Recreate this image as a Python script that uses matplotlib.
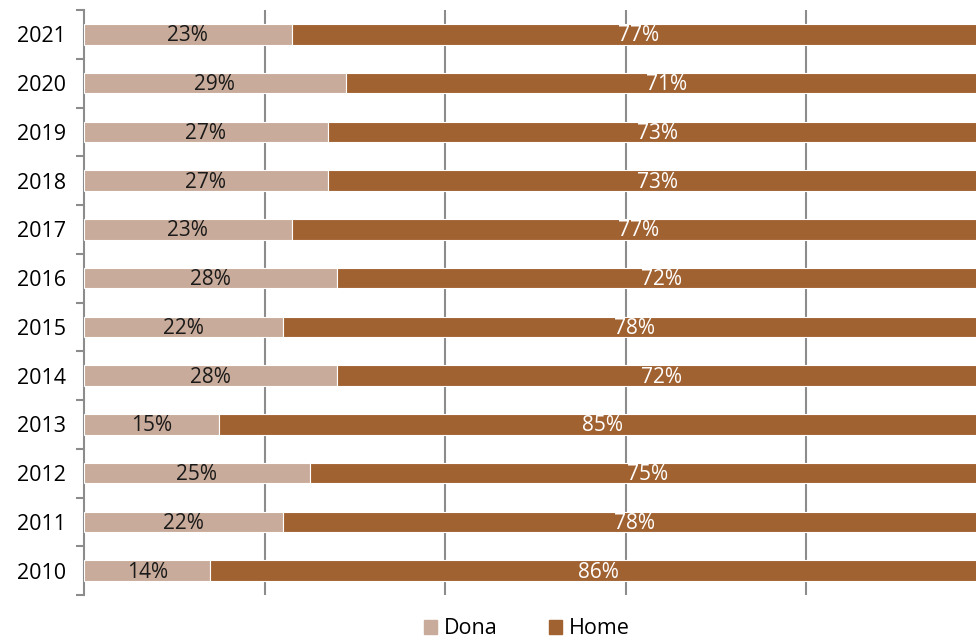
import numpy as np
import matplotlib.pyplot as plt
from matplotlib.patches import Patch

years = ["2010", "2011", "2012", "2013", "2014", "2015",
         "2016", "2017", "2018", "2019", "2020", "2021"]
dona = [0.14, 0.22, 0.25, 0.15, 0.28, 0.22, 0.28, 0.23, 0.27, 0.27, 0.29, 0.23]
home = [0.86, 0.78, 0.75, 0.85, 0.72, 0.78, 0.72, 0.77, 0.73, 0.73, 0.71, 0.77]

DONA_COLOR = "#C8AB9A"
HOME_COLOR = "#A16232"
GRID_COLOR = "#8C8C8C"

plt.rcParams["font.family"] = ["Open Sans", "DejaVu Sans"]

fig = plt.figure(figsize=(9.76, 6.38), dpi=100)
# axes placed so that 100% falls just beyond the right edge (chart is cropped)
W, H = 976, 638
left_px, top_px, bottom_px = 84, 10, 595
x_right = (W - left_px) / 902.5
ax = fig.add_axes([left_px / W, 1 - bottom_px / H, (W - left_px) / W, (bottom_px - top_px) / H])

y = np.arange(len(years))
ax.barh(y, dona, height=0.42, color=DONA_COLOR, edgecolor="white", linewidth=0.8, zorder=3)
ax.barh(y, home, left=dona, height=0.42, color=HOME_COLOR, edgecolor="white", linewidth=0.8, zorder=3)

for i in range(len(years)):
    ax.text(dona[i] / 2, y[i] - 0.03, f"{round(dona[i] * 100)}%", ha="center", va="center",
            fontsize=15, color="#1a1a1a", zorder=4)
    ax.text(dona[i] + home[i] / 2, y[i] - 0.03, f"{round(home[i] * 100)}%", ha="center", va="center",
            fontsize=15, color="white", zorder=4)

ax.set_xlim(0, x_right)
ax.set_ylim(-0.5, len(years) - 0.5)

ax.set_xticks([0.2, 0.4, 0.6, 0.8])
ax.tick_params(axis="x", length=0, labelbottom=False)
ax.grid(axis="x", color=GRID_COLOR, linewidth=1.5, zorder=0)

ax.set_yticks(y)
ax.set_yticklabels(years, fontsize=15.5)
ax.tick_params(axis="y", which="major", length=0, pad=13)
ax.set_yticks(np.arange(-0.5, len(years), 1.0), minor=True)
ax.tick_params(axis="y", which="minor", length=6, width=1.5, color=GRID_COLOR, direction="out")

for side in ["top", "right", "bottom"]:
    ax.spines[side].set_visible(False)
ax.spines["left"].set_color(GRID_COLOR)
ax.spines["left"].set_linewidth(1.5)

handles = [Patch(color=DONA_COLOR, label="Dona"), Patch(color=HOME_COLOR, label="Home")]
fig.legend(handles=handles, loc="center", bbox_to_anchor=(527 / W, 1 - 629 / H), ncol=2,
           frameon=False, fontsize=15.5, handlelength=0.6, handleheight=0.6,
           handletextpad=0.3, columnspacing=2.4)

fig.savefig("out.png", dpi=100)
